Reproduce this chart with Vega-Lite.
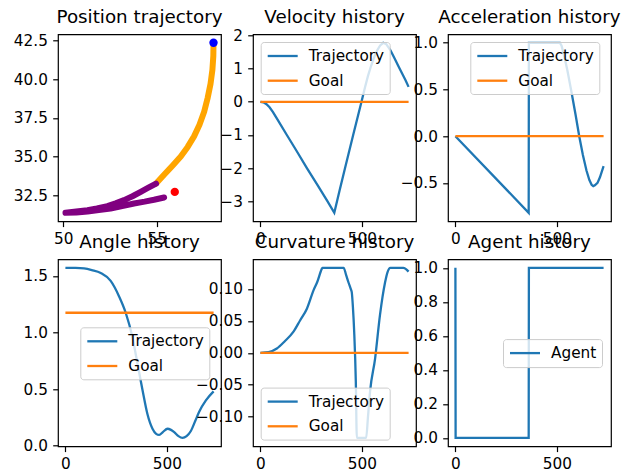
{
  "$schema": "https://vega.github.io/schema/vega-lite/v6.json",
  "background": "white",
  "padding": {"left": 12, "top": 6.3, "right": 5, "bottom": 0},
  "columns": 3,
  "spacing": {"row": 38, "column": 32},
  "bounds": "flush",
  "resolve": {"scale": {"color": "independent", "x": "independent", "y": "independent"}, "legend": {"color": "independent"}},
  "config": {
    "font": "DejaVu Sans",
    "view": {"stroke": "black", "strokeWidth": 1.2},
    "axis": {"domain": false, "grid": false, "ticks": true, "tickColor": "black", "tickSize": 5.3, "tickWidth": 1.2, "labelPadding": 5.3, "labelFontSize": 15.3, "labelFont": "DejaVu Sans", "labelColor": "black", "title": null, "labelFlush": false, "labelOverlap": false, "labelBound": false},
    "title": {"fontSize": 18.3, "font": "DejaVu Sans", "fontWeight": "normal", "color": "black", "frame": "group", "anchor": "middle", "baseline": "alphabetic", "offset": 7.3},
    "legend": {"labelFont": "DejaVu Sans", "labelFontSize": 15.3, "labelColor": "black", "padding": 5, "fillColor": "rgba(255,255,255,0.8)", "strokeColor": "#cccccc", "cornerRadius": 3, "symbolType": "M-2,0H2", "symbolSize": 225, "symbolStrokeWidth": 2.3, "symbolOffset": 8, "labelOffset": 17, "rowPadding": 6.7}
  },
  "datasets": {
    "pos": [
      {"i": 0, "part": "approach", "x": 58.03, "y": 42.35},
      {"i": 1, "part": "approach", "x": 58.02, "y": 41.5},
      {"i": 2, "part": "approach", "x": 57.97, "y": 40.6},
      {"i": 3, "part": "approach", "x": 57.87, "y": 39.7},
      {"i": 4, "part": "approach", "x": 57.72, "y": 38.8},
      {"i": 5, "part": "approach", "x": 57.53, "y": 37.9},
      {"i": 6, "part": "approach", "x": 57.28, "y": 37.05},
      {"i": 7, "part": "approach", "x": 56.99, "y": 36.3},
      {"i": 8, "part": "approach", "x": 56.65, "y": 35.62},
      {"i": 9, "part": "approach", "x": 56.28, "y": 35.0},
      {"i": 10, "part": "approach", "x": 55.85, "y": 34.42},
      {"i": 11, "part": "approach", "x": 55.4, "y": 33.83},
      {"i": 12, "part": "approach", "x": 54.96, "y": 33.25},
      {"i": 13, "part": "reverse", "x": 54.96, "y": 33.25},
      {"i": 14, "part": "reverse", "x": 54.5, "y": 32.95},
      {"i": 15, "part": "reverse", "x": 54.14, "y": 32.71},
      {"i": 16, "part": "reverse", "x": 53.7, "y": 32.43},
      {"i": 17, "part": "reverse", "x": 53.25, "y": 32.18},
      {"i": 18, "part": "reverse", "x": 52.8, "y": 31.97},
      {"i": 19, "part": "reverse", "x": 52.36, "y": 31.79},
      {"i": 20, "part": "reverse", "x": 51.8, "y": 31.64},
      {"i": 21, "part": "reverse", "x": 51.29, "y": 31.53},
      {"i": 22, "part": "reverse", "x": 50.7, "y": 31.44},
      {"i": 23, "part": "reverse", "x": 50.12, "y": 31.36},
      {"i": 24, "part": "reverse", "x": 50.7, "y": 31.38},
      {"i": 25, "part": "reverse", "x": 51.3, "y": 31.45},
      {"i": 26, "part": "reverse", "x": 51.9, "y": 31.54},
      {"i": 27, "part": "reverse", "x": 52.53, "y": 31.64},
      {"i": 28, "part": "reverse", "x": 53.15, "y": 31.79},
      {"i": 29, "part": "reverse", "x": 53.78, "y": 31.96},
      {"i": 30, "part": "reverse", "x": 54.35, "y": 32.08},
      {"i": 31, "part": "reverse", "x": 54.85, "y": 32.2},
      {"i": 32, "part": "reverse", "x": 55.39, "y": 32.35}
    ],
    "markers": [
      {"kind": "start", "x": 58.03, "y": 42.35},
      {"kind": "goal", "x": 55.96, "y": 32.71}
    ],
    "vel": [
      {"series": "Trajectory", "t": 0, "value": 0},
      {"series": "Trajectory", "t": 15, "value": -0.018},
      {"series": "Trajectory", "t": 30, "value": -0.073},
      {"series": "Trajectory", "t": 45, "value": -0.165},
      {"series": "Trajectory", "t": 62, "value": -0.31},
      {"series": "Trajectory", "t": 80, "value": -0.495},
      {"series": "Trajectory", "t": 131, "value": -1.01},
      {"series": "Trajectory", "t": 180, "value": -1.5},
      {"series": "Trajectory", "t": 229, "value": -2.0},
      {"series": "Trajectory", "t": 280, "value": -2.5},
      {"series": "Trajectory", "t": 330, "value": -3.0},
      {"series": "Trajectory", "t": 364, "value": -3.35},
      {"series": "Trajectory", "t": 390, "value": -2.68},
      {"series": "Trajectory", "t": 417, "value": -2.0},
      {"series": "Trajectory", "t": 457, "value": -1.0},
      {"series": "Trajectory", "t": 498, "value": 0},
      {"series": "Trajectory", "t": 515, "value": 0.43},
      {"series": "Trajectory", "t": 530, "value": 0.78},
      {"series": "Trajectory", "t": 545, "value": 1.08},
      {"series": "Trajectory", "t": 560, "value": 1.34},
      {"series": "Trajectory", "t": 575, "value": 1.55},
      {"series": "Trajectory", "t": 590, "value": 1.7},
      {"series": "Trajectory", "t": 605, "value": 1.78},
      {"series": "Trajectory", "t": 620, "value": 1.74},
      {"series": "Trajectory", "t": 640, "value": 1.56},
      {"series": "Trajectory", "t": 660, "value": 1.32},
      {"series": "Trajectory", "t": 680, "value": 1.07},
      {"series": "Trajectory", "t": 700, "value": 0.83},
      {"series": "Trajectory", "t": 715, "value": 0.65},
      {"series": "Trajectory", "t": 730, "value": 0.45},
      {"series": "Goal", "t": 0, "value": 0},
      {"series": "Goal", "t": 730, "value": 0}
    ],
    "acc": [
      {"series": "Trajectory", "t": 0, "value": 0},
      {"series": "Trajectory", "t": 361, "value": -0.82},
      {"series": "Trajectory", "t": 362, "value": 1.0},
      {"series": "Trajectory", "t": 515, "value": 1.0},
      {"series": "Trajectory", "t": 523, "value": 0.97},
      {"series": "Trajectory", "t": 531, "value": 0.9},
      {"series": "Trajectory", "t": 541, "value": 0.81},
      {"series": "Trajectory", "t": 552, "value": 0.7},
      {"series": "Trajectory", "t": 572, "value": 0.47},
      {"series": "Trajectory", "t": 592, "value": 0.23},
      {"series": "Trajectory", "t": 610, "value": 0},
      {"series": "Trajectory", "t": 628, "value": -0.2},
      {"series": "Trajectory", "t": 646, "value": -0.37},
      {"series": "Trajectory", "t": 660, "value": -0.47},
      {"series": "Trajectory", "t": 671, "value": -0.52},
      {"series": "Trajectory", "t": 679, "value": -0.535},
      {"series": "Trajectory", "t": 687, "value": -0.525},
      {"series": "Trajectory", "t": 700, "value": -0.5},
      {"series": "Trajectory", "t": 712, "value": -0.44},
      {"series": "Trajectory", "t": 730, "value": -0.32},
      {"series": "Goal", "t": 0, "value": 0},
      {"series": "Goal", "t": 730, "value": 0}
    ],
    "ang": [
      {"series": "Trajectory", "t": 0, "value": 1.5708},
      {"series": "Trajectory", "t": 50, "value": 1.57},
      {"series": "Trajectory", "t": 92, "value": 1.565},
      {"series": "Trajectory", "t": 130, "value": 1.55},
      {"series": "Trajectory", "t": 174, "value": 1.525},
      {"series": "Trajectory", "t": 223, "value": 1.455},
      {"series": "Trajectory", "t": 265, "value": 1.316},
      {"series": "Trajectory", "t": 297, "value": 1.174},
      {"series": "Trajectory", "t": 330, "value": 0.96},
      {"series": "Trajectory", "t": 355, "value": 0.725},
      {"series": "Trajectory", "t": 380, "value": 0.49},
      {"series": "Trajectory", "t": 404, "value": 0.28},
      {"series": "Trajectory", "t": 429, "value": 0.15},
      {"series": "Trajectory", "t": 447, "value": 0.105},
      {"series": "Trajectory", "t": 462, "value": 0.095},
      {"series": "Trajectory", "t": 480, "value": 0.12},
      {"series": "Trajectory", "t": 503, "value": 0.15},
      {"series": "Trajectory", "t": 520, "value": 0.14},
      {"series": "Trajectory", "t": 536, "value": 0.12},
      {"series": "Trajectory", "t": 557, "value": 0.085},
      {"series": "Trajectory", "t": 577, "value": 0.07},
      {"series": "Trajectory", "t": 597, "value": 0.085},
      {"series": "Trajectory", "t": 618, "value": 0.13},
      {"series": "Trajectory", "t": 640, "value": 0.22},
      {"series": "Trajectory", "t": 659, "value": 0.3},
      {"series": "Trajectory", "t": 692, "value": 0.4},
      {"series": "Trajectory", "t": 730, "value": 0.48},
      {"series": "Goal", "t": 0, "value": 1.174},
      {"series": "Goal", "t": 730, "value": 1.174}
    ],
    "curv": [
      {"series": "Trajectory", "t": 0, "value": 0},
      {"series": "Trajectory", "t": 40, "value": 0.001},
      {"series": "Trajectory", "t": 81, "value": 0.0067},
      {"series": "Trajectory", "t": 120, "value": 0.018},
      {"series": "Trajectory", "t": 163, "value": 0.033},
      {"series": "Trajectory", "t": 196, "value": 0.051},
      {"series": "Trajectory", "t": 229, "value": 0.069},
      {"series": "Trajectory", "t": 262, "value": 0.098},
      {"series": "Trajectory", "t": 279, "value": 0.11},
      {"series": "Trajectory", "t": 302, "value": 0.131},
      {"series": "Trajectory", "t": 305, "value": 0.133},
      {"series": "Trajectory", "t": 410, "value": 0.133},
      {"series": "Trajectory", "t": 422, "value": 0.122},
      {"series": "Trajectory", "t": 434, "value": 0.11},
      {"series": "Trajectory", "t": 445, "value": 0.1},
      {"series": "Trajectory", "t": 450, "value": 0.095},
      {"series": "Trajectory", "t": 456, "value": 0.07},
      {"series": "Trajectory", "t": 462, "value": 0.033},
      {"series": "Trajectory", "t": 470, "value": -0.045},
      {"series": "Trajectory", "t": 475, "value": -0.133},
      {"series": "Trajectory", "t": 521, "value": -0.133},
      {"series": "Trajectory", "t": 530, "value": -0.1},
      {"series": "Trajectory", "t": 540, "value": -0.061},
      {"series": "Trajectory", "t": 565, "value": -0.009},
      {"series": "Trajectory", "t": 589, "value": 0.059},
      {"series": "Trajectory", "t": 614, "value": 0.11},
      {"series": "Trajectory", "t": 626, "value": 0.126},
      {"series": "Trajectory", "t": 640, "value": 0.133},
      {"series": "Trajectory", "t": 704, "value": 0.133},
      {"series": "Trajectory", "t": 730, "value": 0.127},
      {"series": "Goal", "t": 0, "value": 0},
      {"series": "Goal", "t": 730, "value": 0}
    ],
    "agent": [
      {"series": "Agent", "t": 0, "value": 1},
      {"series": "Agent", "t": 1, "value": 0},
      {"series": "Agent", "t": 361, "value": 0},
      {"series": "Agent", "t": 362, "value": 1},
      {"series": "Agent", "t": 730, "value": 1}
    ]
  },
  "concat": [
    {
      "title": {"text": "Position trajectory", "offset": 5.85},
      "width": 163, "height": 187,
      "layer": [
        {
          "data": {"name": "pos"},
          "transform": [{"filter": "datum.part === 'approach'"}],
          "mark": {"type": "line", "color": "#ffa500", "strokeWidth": 6, "strokeCap": "round", "strokeJoin": "round"},
          "encoding": {
            "x": {"field": "x", "type": "quantitative", "scale": {"domain": [49.72, 58.43], "nice": false, "zero": false}, "axis": {"values": [50, 55], "format": "d"}},
            "y": {"field": "y", "type": "quantitative", "scale": {"domain": [30.81, 42.9], "nice": false, "zero": false}, "axis": {"values": [32.5, 35, 37.5, 40, 42.5], "format": ".1f"}},
            "order": {"field": "i", "type": "quantitative"}
          }
        },
        {
          "data": {"name": "pos"},
          "transform": [{"filter": "datum.part === 'reverse'"}],
          "mark": {"type": "line", "color": "#800080", "strokeWidth": 6, "strokeCap": "round", "strokeJoin": "round"},
          "encoding": {
            "x": {"field": "x", "type": "quantitative"},
            "y": {"field": "y", "type": "quantitative"},
            "order": {"field": "i", "type": "quantitative"}
          }
        },
        {
          "data": {"name": "markers"},
          "mark": {"type": "circle", "size": 70, "opacity": 1},
          "encoding": {
            "x": {"field": "x", "type": "quantitative"},
            "y": {"field": "y", "type": "quantitative"},
            "color": {"field": "kind", "type": "nominal", "scale": {"domain": ["start", "goal"], "range": ["#0000ff", "#ff0000"]}, "legend": null}
          }
        }
      ]
    },
    {
      "title": {"text": "Velocity history", "offset": 0.85},
      "width": 163, "height": 187,
      "data": {"name": "vel"},
      "encoding": {
        "x": {"field": "t", "type": "quantitative", "scale": {"domain": [-36.5, 766.5], "nice": false, "zero": false}, "axis": {"values": [0, 500], "format": "d"}},
        "y": {"field": "value", "type": "quantitative", "scale": {"domain": [-3.6065, 2.0365], "nice": false, "zero": false}, "axis": {"values": [-3, -2, -1, 0, 1, 2], "format": "d"}},
        "color": {"field": "series", "type": "nominal", "scale": {"domain": ["Trajectory", "Goal"], "range": ["#1f77b4", "#ff7f0e"]}, "legend": {"orient": "none", "legendX": 7.7, "legendY": 7.7, "title": null}}
      },
      "layer": [
        {"transform": [{"filter": "datum.series === 'Trajectory'"}], "mark": {"type": "line", "strokeWidth": 2.3}},
        {"transform": [{"filter": "datum.series === 'Goal'"}], "mark": {"type": "line", "strokeWidth": 2.3}}
      ]
    },
    {
      "title": {"text": "Acceleration history", "offset": 7.3},
      "width": 163, "height": 187,
      "data": {"name": "acc"},
      "encoding": {
        "x": {"field": "t", "type": "quantitative", "scale": {"domain": [-36.5, 766.5], "nice": false, "zero": false}, "axis": {"values": [0, 500], "format": "d"}},
        "y": {"field": "value", "type": "quantitative", "scale": {"domain": [-0.911, 1.091], "nice": false, "zero": false}, "axis": {"values": [-0.5, 0, 0.5, 1], "format": ".1f"}},
        "color": {"field": "series", "type": "nominal", "scale": {"domain": ["Trajectory", "Goal"], "range": ["#1f77b4", "#ff7f0e"]}, "legend": {"orient": "none", "legendX": 22.3, "legendY": 7.7, "title": null}}
      },
      "layer": [
        {"transform": [{"filter": "datum.series === 'Trajectory'"}], "mark": {"type": "line", "strokeWidth": 2.3}},
        {"transform": [{"filter": "datum.series === 'Goal'"}], "mark": {"type": "line", "strokeWidth": 2.3}}
      ]
    },
    {
      "title": {"text": "Angle history", "offset": 7.3},
      "width": 163, "height": 187,
      "data": {"name": "ang"},
      "encoding": {
        "x": {"field": "t", "type": "quantitative", "scale": {"domain": [-36.5, 766.5], "nice": false, "zero": false}, "axis": {"values": [0, 500], "format": "d"}},
        "y": {"field": "value", "type": "quantitative", "scale": {"domain": [-0.005, 1.6458], "nice": false, "zero": false}, "axis": {"values": [0, 0.5, 1, 1.5], "format": ".1f"}},
        "color": {"field": "series", "type": "nominal", "scale": {"domain": ["Trajectory", "Goal"], "range": ["#1f77b4", "#ff7f0e"]}, "legend": {"orient": "none", "legendX": 22.3, "legendY": 68, "title": null}}
      },
      "layer": [
        {"transform": [{"filter": "datum.series === 'Trajectory'"}], "mark": {"type": "line", "strokeWidth": 2.3, "interpolate": "monotone"}},
        {"transform": [{"filter": "datum.series === 'Goal'"}], "mark": {"type": "line", "strokeWidth": 2.3}}
      ]
    },
    {
      "title": {"text": "Curvature history", "offset": 7.3},
      "width": 163, "height": 187,
      "data": {"name": "curv"},
      "encoding": {
        "x": {"field": "t", "type": "quantitative", "scale": {"domain": [-36.5, 766.5], "nice": false, "zero": false}, "axis": {"values": [0, 500], "format": "d"}},
        "y": {"field": "value", "type": "quantitative", "scale": {"domain": [-0.1463, 0.1463], "nice": false, "zero": false}, "axis": {"values": [-0.1, -0.05, 0, 0.05, 0.1], "format": ".2f"}},
        "color": {"field": "series", "type": "nominal", "scale": {"domain": ["Trajectory", "Goal"], "range": ["#1f77b4", "#ff7f0e"]}, "legend": {"orient": "none", "legendX": 7.7, "legendY": 128.3, "title": null}}
      },
      "layer": [
        {"transform": [{"filter": "datum.series === 'Trajectory'"}], "mark": {"type": "line", "strokeWidth": 2.3, "interpolate": "monotone"}},
        {"transform": [{"filter": "datum.series === 'Goal'"}], "mark": {"type": "line", "strokeWidth": 2.3}}
      ]
    },
    {
      "title": {"text": "Agent history", "offset": 7.3},
      "width": 163, "height": 187,
      "data": {"name": "agent"},
      "mark": {"type": "line", "strokeWidth": 2.3},
      "encoding": {
        "x": {"field": "t", "type": "quantitative", "scale": {"domain": [-36.5, 766.5], "nice": false, "zero": false}, "axis": {"values": [0, 500], "format": "d"}},
        "y": {"field": "value", "type": "quantitative", "scale": {"domain": [-0.05, 1.05], "nice": false, "zero": false}, "axis": {"values": [0, 0.2, 0.4, 0.6, 0.8, 1], "format": ".1f"}},
        "color": {"field": "series", "type": "nominal", "scale": {"domain": ["Agent"], "range": ["#1f77b4"]}, "legend": {"orient": "none", "legendX": 55, "legendY": 79.8, "title": null}}
      }
    }
  ]
}
